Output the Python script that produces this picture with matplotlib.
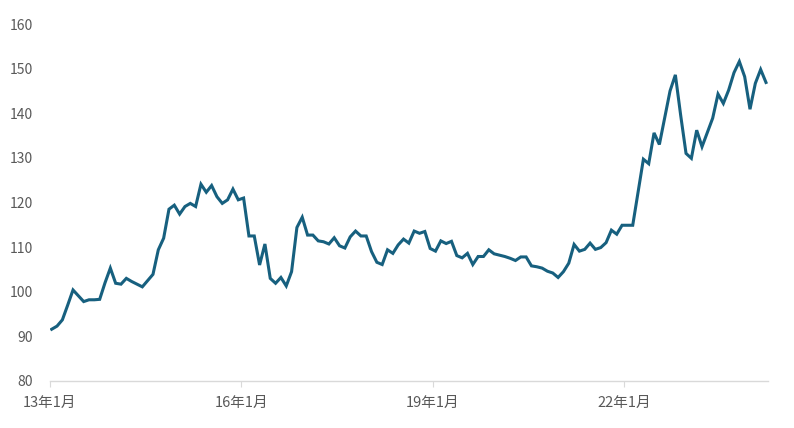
import numpy as np
import matplotlib.pyplot as plt

plt.rcParams['font.family'] = ['Noto Sans CJK JP', 'DejaVu Sans']

# monthly index, 13年1月 .. 24年3月
values = [
    91.6, 92.3, 93.7, 97.0, 100.4, 99.1, 97.8, 98.2, 98.2, 98.3,
    102.0, 105.3, 101.9, 101.7, 103.0, 102.3, 101.7, 101.1, 102.5, 103.9,
    109.4, 112.0, 118.5, 119.4, 117.4, 119.1, 119.8, 119.1, 124.1, 122.3,
    123.8, 121.3, 119.8, 120.6, 123.0, 120.6, 121.0, 112.5, 112.5, 106.0,
    110.7, 103.0, 101.9, 103.2, 101.3, 104.5, 114.4, 116.7, 112.7, 112.7,
    111.4, 111.2, 110.7, 112.1, 110.3, 109.8, 112.3, 113.6, 112.5, 112.5,
    109.0, 106.6, 106.1, 109.4, 108.6, 110.5, 111.8, 110.9, 113.6, 113.1,
    113.5, 109.7, 109.1, 111.4, 110.8, 111.3, 108.1, 107.6, 108.6, 106.1,
    107.9, 107.9, 109.4, 108.5, 108.2, 107.9, 107.5, 107.0, 107.8, 107.8,
    105.8, 105.6, 105.3, 104.6, 104.2, 103.2, 104.5, 106.4, 110.6, 109.1,
    109.5, 110.9, 109.5, 109.9, 111.0, 113.8, 112.9, 114.9, 114.9, 114.9,
    122.3, 129.7, 128.7, 135.6, 133.0, 139.0, 145.0, 148.6, 139.5, 131.0,
    129.9, 136.2, 132.5, 135.7, 138.9, 144.3, 142.2, 145.2, 149.1, 151.6,
    148.2, 140.9, 146.7, 149.8, 146.9,
]
tick_pos = [0, 36, 72, 108]
tick_labels = ["13年1月", "16年1月", "19年1月", "22年1月"]

# points sit a little after the month tick on the date axis
x = 0.32 + 1.003 * np.arange(len(values))

fig = plt.figure(figsize=(7.94, 4.28), dpi=100)
ax = fig.add_axes([50/794, 47/428, 718/794, 357/428])

ax.plot(x, values, color="#17607f", lw=2.2, solid_joinstyle="miter")

ax.set_xlim(0, 135.1)
ax.set_ylim(80, 160)
ax.set_yticks(range(80, 161, 10))
ax.set_xticks(tick_pos)
ax.set_xticklabels(tick_labels)

for s in ["top", "right", "left"]:
    ax.spines[s].set_visible(False)
ax.spines["bottom"].set_color("#d9d9d9")
ax.spines["bottom"].set_linewidth(1)

ax.tick_params(axis="y", length=0, pad=12, labelsize=10, labelcolor="#595959")
ax.tick_params(axis="x", length=4, color="#d9d9d9", pad=7, labelsize=10.5, labelcolor="#595959")

fig.savefig("out.png", dpi=100)
